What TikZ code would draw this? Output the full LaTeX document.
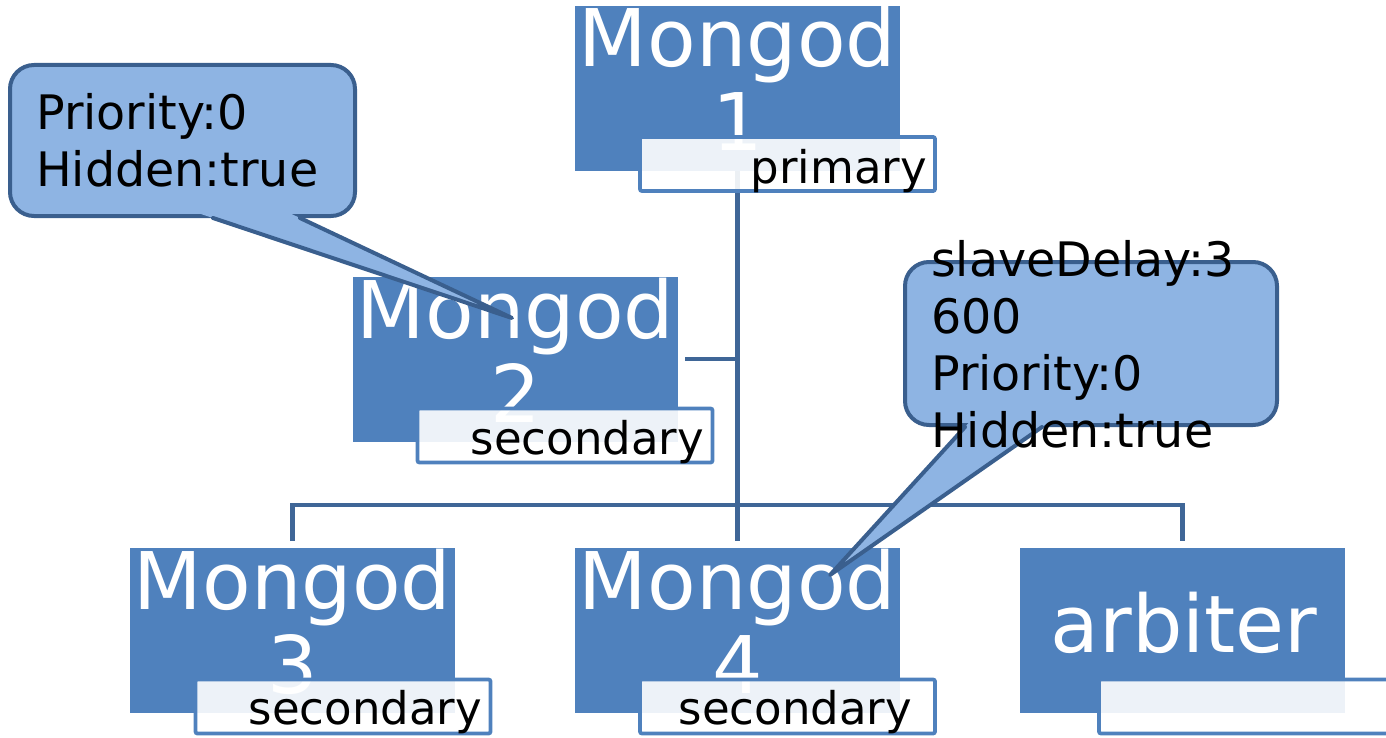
\documentclass[tikz,border=0pt]{standalone}
\usepackage{fontspec}
\setmainfont{DejaVu Sans}
\definecolor{boxblue}{HTML}{4F81BD}
\definecolor{linkblue}{HTML}{3F6697}
\definecolor{bubblefill}{HTML}{8EB4E3}
\definecolor{bubbleedge}{HTML}{3A5F8E}
\begin{document}
\begin{tikzpicture}[x=1pt,y=-1pt,
  member/.style={fill=boxblue, minimum width=325pt, minimum height=165pt, inner sep=0pt, outer sep=0pt},
  bigtext/.style={text=white, font=\fontsize{79.5}{84}\selectfont, align=center, inner sep=0pt, anchor=base},
  tag/.style={draw=boxblue, line width=3.8pt, fill=white, fill opacity=0.9, rounded corners=2pt,
    minimum width=295pt, minimum height=54pt, inner sep=0pt},
  tagtext/.style={font=\fontsize{45}{54}\selectfont, inner sep=0pt, anchor=base east},
  conn/.style={draw=linkblue, line width=4.5pt},
  bubble/.style={fill=bubblefill, draw=bubbleedge, line width=4pt, rounded corners=24pt, inner sep=0pt},
  bubbletext/.style={font=\fontsize{47.5}{57}\selectfont, align=left, inner sep=0pt, anchor=base west},
  tail/.style={draw=bubbleedge, line width=4pt, line join=round, line cap=round}]
\useasboundingbox (0,0) rectangle (1386,738);

% replica set members
\node[member] (m1) at (737.5,88.5) {};
\node[member] (m2) at (515.5,359) {};
\node[member] (m3) at (292.5,630.5) {};
\node[member] (m4) at (737.5,630.5) {};
\node[member] (m5) at (1182.5,630.5) {};

% tree connectors
\draw[conn] (m1.south) -- ([yshift=7pt]m4.north);
\draw[conn] ([xshift=7pt]m2.east) -- (m2.east -| m1.south);
\draw[conn] ([yshift=7pt]m3.north) -- ++(0,-36) -| ([yshift=7pt]m5.north);

% member names (anchored on the baseline of the last line)
\node[bigtext] (m1t) at (737.5,151) {Mongod\\1};
\node[bigtext] (m2t) at (515.5,422) {Mongod\\2};
\node[bigtext] (m3t) at (292.5,693) {Mongod\\3};
\node[bigtext] (m4t) at (737.5,693) {Mongod\\4};
\node[bigtext] (m5t) at (1184,652) {arbiter};

% role tags
\node[tag] (l1) at (787.5,164) {};
\node[tag] (l2) at (565,435.5) {};
\node[tag] (l3) at (343,706.5) {};
\node[tag] (l4) at (787.5,706.5) {};
\node[tag] (l5) at (1246.5,706.5) {};
\node[tagtext] (l1t) at (927,184) {primary};
\node[tagtext] (l2t) at (704,454) {secondary};
\node[tagtext] (l3t) at (482,724) {secondary};
\node[tagtext] (l4t) at (912,724) {secondary};

% callout for Mongod 2
\node[bubble, minimum width=345pt, minimum height=151pt] (c1) at (182.5,140.5) {};
\coordinate (c1a) at (213,218);
\coordinate (c1b) at (300,218);
\coordinate (c1tip) at (512,318);
\fill[bubblefill] (201,214) -- (c1tip) -- (291.5,214) -- cycle;
\draw[tail] (c1a) -- (c1tip) -- (c1b);
\node[bubbletext] (c1t) at (36,187) {Priority:0\\Hidden:true};

% callout for Mongod 4
\node[bubble, minimum width=372pt, minimum height=163pt] (c2) at (1091,343.5) {};
\coordinate (c2a) at (965,427);
\coordinate (c2b) at (1042,427);
\coordinate (c2tip) at (830,575);
\fill[bubblefill] (968.6,423) -- (c2tip) -- (1047.7,423) -- cycle;
\draw[tail] (c2a) -- (c2tip) -- (c2b);
\node[bubbletext] (c2t) at (931,447) {slaveDelay:3\\600\\Priority:0\\Hidden:true};
\end{tikzpicture}
\end{document}
